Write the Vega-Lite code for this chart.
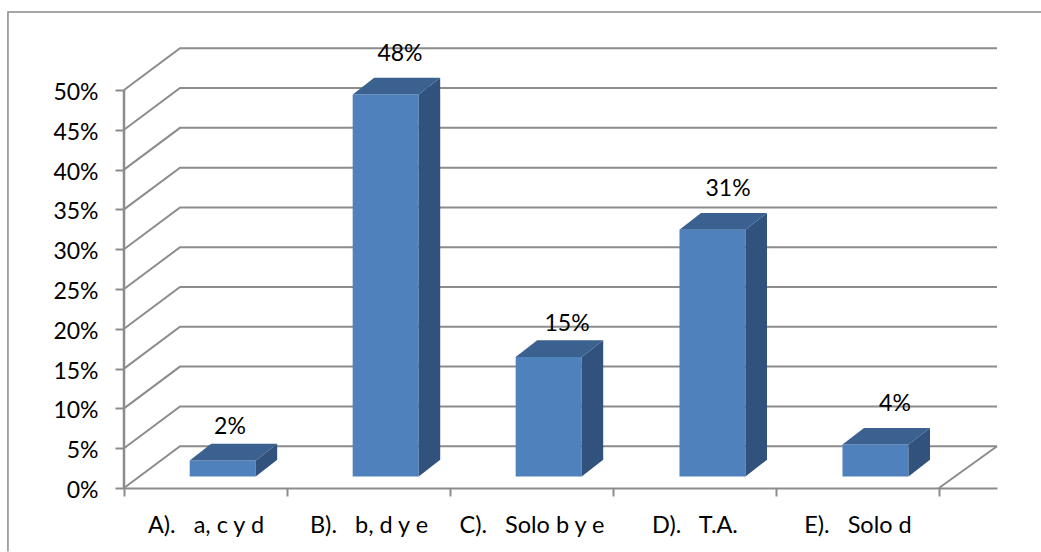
{
"$schema":"https://vega.github.io/schema/vega-lite/v6.json",
"width":873,"height":440,"autosize":{"type":"none"},
"padding":{"left":124,"top":48,"right":44,"bottom":64},
"background":"white",
"config":{"view":{"stroke":null},"font":"Lato"},
"datasets":{
"bars":[
{"category":"A).   a, c y d","value":2,"left":0.403,"right":0.808,"base":1.45,"front":3.45},
{"category":"B).   b, d y e","value":48,"left":1.403,"right":1.808,"base":1.45,"front":49.45},
{"category":"C).   Solo b y e","value":15,"left":2.403,"right":2.808,"base":1.45,"front":16.45},
{"category":"D).   T.A.","value":31,"left":3.408,"right":3.813,"base":1.45,"front":32.45},
{"category":"E).   Solo d","value":4,"left":4.408,"right":4.813,"base":1.45,"front":5.45}],
"sides":[
{"bar":"A","at":0.808,"low":1.45,"high":3.45},{"bar":"A","at":0.94,"low":3.55,"high":5.55},
{"bar":"B","at":1.808,"low":1.45,"high":49.45},{"bar":"B","at":1.94,"low":3.55,"high":51.55},
{"bar":"C","at":2.808,"low":1.45,"high":16.45},{"bar":"C","at":2.94,"low":3.55,"high":18.55},
{"bar":"D","at":3.813,"low":1.45,"high":32.45},{"bar":"D","at":3.945,"low":3.55,"high":34.55},
{"bar":"E","at":4.813,"low":1.45,"high":5.45},{"bar":"E","at":4.945,"low":3.55,"high":7.55}],
"tops":[
{"bar":"A","level":3.45,"from":0.403,"to":0.808},{"bar":"A","level":5.55,"from":0.535,"to":0.94},
{"bar":"B","level":49.45,"from":1.403,"to":1.808},{"bar":"B","level":51.55,"from":1.535,"to":1.94},
{"bar":"C","level":16.45,"from":2.403,"to":2.808},{"bar":"C","level":18.55,"from":2.535,"to":2.94},
{"bar":"D","level":32.45,"from":3.408,"to":3.813},{"bar":"D","level":34.55,"from":3.54,"to":3.945},
{"bar":"E","level":5.45,"from":4.408,"to":4.813},{"bar":"E","level":7.55,"from":4.54,"to":4.945}],
"walls":[
{"line":"g0","x":0,"y":0},{"line":"g0","x":0.3436,"y":5.25},{"line":"g0","x":5.356,"y":5.25},
{"line":"g5","x":0,"y":5},{"line":"g5","x":0.3436,"y":10.25},{"line":"g5","x":5.356,"y":10.25},
{"line":"g10","x":0,"y":10},{"line":"g10","x":0.3436,"y":15.25},{"line":"g10","x":5.356,"y":15.25},
{"line":"g15","x":0,"y":15},{"line":"g15","x":0.3436,"y":20.25},{"line":"g15","x":5.356,"y":20.25},
{"line":"g20","x":0,"y":20},{"line":"g20","x":0.3436,"y":25.25},{"line":"g20","x":5.356,"y":25.25},
{"line":"g25","x":0,"y":25},{"line":"g25","x":0.3436,"y":30.25},{"line":"g25","x":5.356,"y":30.25},
{"line":"g30","x":0,"y":30},{"line":"g30","x":0.3436,"y":35.25},{"line":"g30","x":5.356,"y":35.25},
{"line":"g35","x":0,"y":35},{"line":"g35","x":0.3436,"y":40.25},{"line":"g35","x":5.356,"y":40.25},
{"line":"g40","x":0,"y":40},{"line":"g40","x":0.3436,"y":45.25},{"line":"g40","x":5.356,"y":45.25},
{"line":"g45","x":0,"y":45},{"line":"g45","x":0.3436,"y":50.25},{"line":"g45","x":5.356,"y":50.25},
{"line":"g50","x":0,"y":50},{"line":"g50","x":0.3436,"y":55.25},{"line":"g50","x":5.356,"y":55.25},
{"line":"floor","x":5,"y":0},{"line":"floor","x":5.356,"y":5.25}],
"frame":[{"step":1,"x":-0.712,"y":-7.98},{"step":2,"x":-0.712,"y":59.8},{"step":3,"x":5.626,"y":59.8}],
"labels":[
{"label":"2%","x":0.65,"y":7.98},
{"label":"48%","x":1.693,"y":54.84},
{"label":"15%","x":2.718,"y":20.92},
{"label":"31%","x":3.706,"y":37.88},
{"label":"4%","x":4.73,"y":10.87}]
},
"layer":[
{"data":{"name":"walls"},
 "mark":{"type":"line","stroke":"#8c8c8c","strokeWidth":2,"clip":false},
 "encoding":{
  "x":{"field":"x","type":"quantitative","title":null,
   "scale":{"domain":[0,5.356],"nice":false,"zero":false},
   "axis":{"values":[0,0.5,1,1.5,2,2.5,3,3.5,4,4.5,5],"grid":false,"title":null,
    "domain":true,"domainColor":"#8c8c8c","domainWidth":2,
    "tickColor":"#8c8c8c","tickWidth":2,"tickSize":8,
    "tickOpacity":{"condition":{"test":"datum.value % 1 !== 0","value":0},"value":1},
    "labelExpr":"datum.value === 0.5 ? 'A).\u00a0\u00a0 a, c y d' : datum.value === 1.5 ? 'B).\u00a0\u00a0 b, d y e' : datum.value === 2.5 ? 'C).\u00a0\u00a0 Solo b y e' : datum.value === 3.5 ? 'D).\u00a0\u00a0 T.A.' : datum.value === 4.5 ? 'E).\u00a0\u00a0 Solo d' : ''",
    "labelFont":"Lato","labelFontSize":23.5,"labelColor":"#000000","labelPadding":17,"labelAngle":0,"labelOverlap":false,"labelFlush":false,"labelBound":false}},
  "y":{"field":"y","type":"quantitative","title":null,
   "scale":{"domain":[0,55.28],"nice":false,"zero":false},
   "axis":{"values":[0,5,10,15,20,25,30,35,40,45,50],"grid":false,"title":null,
    "domain":false,
    "tickColor":"#8c8c8c","tickWidth":2,"tickSize":9,
    "labelExpr":"datum.value + '%'",
    "labelFont":"Lato","labelFontSize":23,"labelColor":"#000000","labelPadding":17,"labelOffset":2.5,"labelOverlap":false,"labelBound":false}},
  "detail":{"field":"line"}}},
{"data":{"name":"frame"},
 "mark":{"type":"line","stroke":"#8a8a8a","strokeWidth":1.5,"clip":false},
 "encoding":{"x":{"field":"x","type":"quantitative","title":null},"y":{"field":"y","type":"quantitative","title":null},"order":{"field":"step"}}},
{"data":{"values":[{"y":0}]},"mark":{"type":"rule","stroke":"#8c8c8c","strokeWidth":2.5},
 "encoding":{"x":{"datum":0,"type":"quantitative","title":null},"y":{"field":"y","type":"quantitative","title":null},"y2":{"datum":50}}},
{"data":{"name":"bars"},
 "mark":{"type":"rect","fill":"#4f81bd"},
 "encoding":{"x":{"field":"left","type":"quantitative","title":null},"x2":{"field":"right"},"y":{"field":"base","type":"quantitative","title":null},"y2":{"field":"front"}}},
{"data":{"name":"sides"},
 "mark":{"type":"area","fill":"#31527c"},
 "encoding":{"x":{"field":"at","type":"quantitative","title":null},"y":{"field":"low","type":"quantitative","title":null},"y2":{"field":"high"},"detail":{"field":"bar"}}},
{"data":{"name":"tops"},
 "mark":{"type":"area","orient":"horizontal","fill":"#3a618f"},
 "encoding":{"y":{"field":"level","type":"quantitative","title":null},"x":{"field":"from","type":"quantitative","title":null},"x2":{"field":"to"},"detail":{"field":"bar"}}},
{"data":{"name":"labels"},
 "mark":{"type":"text","font":"Lato","fontSize":23,"color":"#000000","baseline":"middle","align":"center","dy":2.5},
 "encoding":{"x":{"field":"x","type":"quantitative","title":null},"y":{"field":"y","type":"quantitative","title":null},"text":{"field":"label"}}}
]
}
